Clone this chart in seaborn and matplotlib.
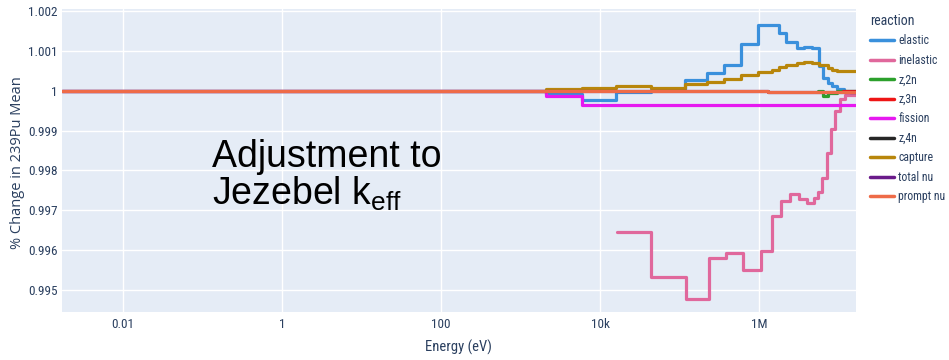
import numpy as np
import pandas as pd
import matplotlib
matplotlib.use("Agg")
import matplotlib.pyplot as plt
import seaborn as sns
from matplotlib import font_manager

# ---------------- data (step functions: edges, values) ----------------
elastic_E = [1.7e-3, 2.1e3, 5.9e3, 1.58e4, 4.4e4, 1.17e5, 2.2e5, 3.6e5, 5.9e5, 9.7e5,
             1.8e6, 2.2e6, 3.0e6, 3.7e6, 4.7e6, 5.7e6, 6.4e6, 7.4e6, 8.3e6, 9.6e6, 1.17e7, 1.66e7]
elastic_V = [1.0, 0.99992, 0.99978, 0.99996, 1.00003, 1.00028, 1.00045, 1.00065, 1.00116, 1.00166,
             1.00145, 1.00122, 1.00107, 1.00110, 1.00106, 1.00061, 1.00032, 1.00020, 1.00011, 1.00005, 1.00000]

inelastic_E = [1.63e4, 4.37e4, 1.21e5, 2.35e5, 3.85e5, 6.3e5, 1.06e6, 1.47e6, 1.90e6, 2.47e6, 3.21e6,
               4.05e6, 4.96e6, 5.57e6, 6.25e6, 7.23e6, 8.13e6, 9.12e6, 1.05e7, 1.22e7, 1.66e7]
inelastic_V = [0.99646, 0.99534, 0.99477, 0.99581, 0.99593, 0.99550, 0.99598, 0.99685, 0.99723, 0.99740,
               0.99728, 0.99719, 0.99730, 0.99745, 0.99780, 0.99845, 0.99905, 0.99949, 0.99979, 0.99989]

z2n_E = [5.6e6, 6.4e6, 7.4e6, 9.6e6, 1.66e7]
z2n_V = [1.0, 0.99988, 0.99995, 0.99999]

z3n_E = [1.15e7, 1.66e7]
z3n_V = [0.99999]

fission_E = [1.7e-3, 2.1e3, 5.9e3, 1.66e7]
fission_V = [1.0, 0.99988, 0.99964]

z4n_E = [1.4e7, 1.66e7]
z4n_V = [0.99997]

capture_E = [1.7e-3, 2.1e3, 5.9e3, 1.58e4, 4.4e4, 1.17e5, 2.2e5, 3.6e5, 5.9e5, 9.7e5, 1.45e6,
             1.8e6, 2.2e6, 3.0e6, 3.7e6, 4.7e6, 5.7e6, 7.4e6, 8.3e6, 9.6e6, 1.17e7, 1.66e7]
capture_V = [1.0, 1.00004, 1.00007, 1.00011, 1.00008, 1.00016, 1.00022, 1.00030, 1.00039, 1.00047,
             1.00053, 1.00060, 1.00065, 1.00070, 1.00072, 1.00070, 1.00064, 1.00057, 1.00053, 1.00049, 1.00050]

totalnu_E = [1.7e-3, 1.3e6, 1.66e7]
totalnu_V = [1.0, 0.99997]

promptnu_E = [1.7e-3, 1.3e6, 1.66e7]
promptnu_V = [1.0, 0.99997]

reactions = ["elastic", "inelastic", "z,2n", "z,3n", "fission", "z,4n", "capture", "total nu", "prompt nu"]
series = {
    "elastic": (elastic_E, elastic_V),
    "inelastic": (inelastic_E, inelastic_V),
    "z,2n": (z2n_E, z2n_V),
    "z,3n": (z3n_E, z3n_V),
    "fission": (fission_E, fission_V),
    "z,4n": (z4n_E, z4n_V),
    "capture": (capture_E, capture_V),
    "total nu": (totalnu_E, totalnu_V),
    "prompt nu": (promptnu_E, promptnu_V),
}
colors = ["#3a90dc", "#e0689c", "#2ca02c", "#ee1515", "#e619f0", "#262626", "#b8860b", "#6a1b8a", "#ee6b48"]

x_ticks = [1e-2, 1e0, 1e2, 1e4, 1e6]
x_tick_labels = ["0.01", "1", "100", "10k", "1M"]
y_ticks = [0.995, 0.996, 0.997, 0.998, 0.999, 1.0, 1.001, 1.002]
y_tick_labels = ["0.995", "0.996", "0.997", "0.998", "0.999", "1", "1.001", "1.002"]

rows = []
for r in reactions:
    E, V = series[r]
    for e, v in zip(E[:-1], V):
        rows.append((r, e, v))
    rows.append((r, E[-1], V[-1]))
df = pd.DataFrame(rows, columns=["reaction", "energy", "value"])

# ---------------- plot ----------------
sns.set_theme(style="darkgrid")
installed = {f.name for f in font_manager.fontManager.ttflist}
narrow = [f for f in ["Liberation Sans Narrow", "Roboto Condensed", "Open Sans"] if f in installed]
ui_family = narrow + ["DejaVu Sans"]
plt.rcParams["font.family"] = ui_family
plt.rcParams["mathtext.fontset"] = "custom"
plt.rcParams["mathtext.rm"] = "Liberation Sans"

fig = plt.figure(figsize=(9.49, 3.60), dpi=100)
ax = fig.add_axes([62 / 949, 48 / 360, (856 - 62) / 949, (312 - 9) / 360])
ax.set_facecolor("#E5ECF6")

pal = dict(zip(reactions, colors))
sns.lineplot(data=df, x="energy", y="value", hue="reaction", hue_order=reactions,
             palette=pal, drawstyle="steps-post", estimator=None, sort=True,
             linewidth=2.3, ax=ax)

ax.set_xscale("log")
ax.set_xlim(10 ** -2.77, 1.66e7)
ax.set_ylim(0.99445, 1.00205)
ax.set_xticks(x_ticks)
ax.set_xticklabels(x_tick_labels)
ax.minorticks_off()
ax.set_yticks(y_ticks)
ax.set_yticklabels(y_tick_labels)
ax.grid(True, color="white", linewidth=1.0)
for s in ax.spines.values():
    s.set_visible(False)
ax.tick_params(axis="both", length=0, colors="#2a3f5f", labelsize=9.5)
ax.tick_params(axis="y", pad=3)
ax.tick_params(axis="x", pad=4)
ax.set_xlabel("Energy (eV)", color="#2a3f5f", fontsize=10.5)
ax.xaxis.label.set_va("center")
ax.xaxis.set_label_coords(0.499, -(347 - 312) / 303)
ax.set_ylabel("% Change in 239Pu Mean", color="#2a3f5f", fontsize=10.5,
              family=["Open Sans", "DejaVu Sans"])
ax.yaxis.set_label_coords((25 - 62) / 794, (312 - 163) / 303)

ax.text(0.189, 0.478, "Adjustment to", transform=ax.transAxes, fontsize=27,
        family="Liberation Sans", color="black", va="baseline", ha="left")
ax.text(0.189, 0.353, r"Jezebel k$_{\mathrm{eff}}$", transform=ax.transAxes, fontsize=27,
        family="Liberation Sans", color="black", va="baseline", ha="left")

leg = ax.legend(title="reaction", loc="upper left", bbox_to_anchor=(870 / 949, 1 - 14 / 360),
                bbox_transform=fig.transFigure, frameon=False, fontsize=8.5, title_fontsize=10,
                handlelength=2.0, handletextpad=0.4, labelspacing=0.55, borderaxespad=0, borderpad=0)
leg._legend_box.align = "left"
for t in leg.get_texts():
    t.set_color("#2a3f5f")
leg.get_title().set_color("#2a3f5f")
for h in leg.legend_handles:
    h.set_linewidth(2.5)

fig.savefig("out.png", dpi=100, facecolor="white")
